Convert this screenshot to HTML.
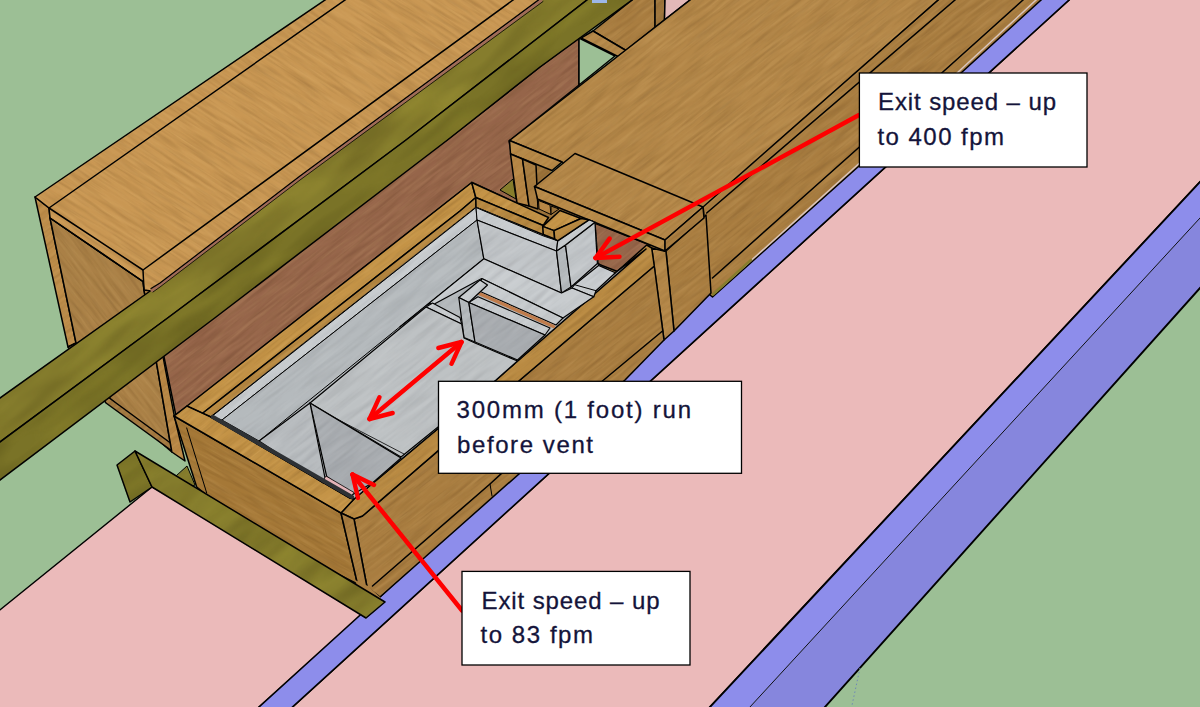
<!DOCTYPE html>
<html><head><meta charset="utf-8"><title>Vent model</title>
<style>
html,body{margin:0;padding:0;background:#9CBF95;}
body{width:1200px;height:707px;overflow:hidden;position:relative;font-family:"Liberation Sans",sans-serif;}
svg{position:absolute;left:0;top:0;display:block}
.co{position:absolute;background:#fff;border:1px solid #000;box-sizing:border-box;color:#111;font-family:"Liberation Sans",sans-serif;}
.co span{position:absolute;white-space:nowrap;transform-origin:0 0;}
</style></head><body>
<svg width="1200" height="707" viewBox="0 0 1200 707">
<defs>
<filter id="wood" x="-2%" y="-2%" width="104%" height="104%" color-interpolation-filters="sRGB">
<feTurbulence type="fractalNoise" baseFrequency="0.022 0.3" numOctaves="3" seed="11" result="n"/>
<feColorMatrix in="n" type="matrix" values="0 0 0 0 0.22  0 0 0 0 0.12  0 0 0 0 0.02  0 0 0 0.32 -0.13" result="d"/>
<feColorMatrix in="n" type="matrix" values="0 0 0 0 1  0 0 0 0 0.86  0 0 0 0 0.6  0 0 -0.26 0 0.16" result="l"/>
<feComposite in="d" in2="SourceGraphic" operator="in" result="dd"/>
<feComposite in="l" in2="SourceGraphic" operator="in" result="ll"/>
<feMerge><feMergeNode in="SourceGraphic"/><feMergeNode in="dd"/><feMergeNode in="ll"/></feMerge>
</filter>
<filter id="foam" x="-2%" y="-2%" width="104%" height="104%" color-interpolation-filters="sRGB">
<feTurbulence type="fractalNoise" baseFrequency="0.02 0.22" numOctaves="2" seed="5" result="n"/>
<feColorMatrix in="n" type="matrix" values="0 0 0 0 0.2  0 0 0 0 0.2  0 0 0 0 0.22  0 0 0 0.22 -0.09" result="d"/>
<feColorMatrix in="n" type="matrix" values="0 0 0 0 1  0 0 0 0 1  0 0 0 0 1  0 0 -0.2 0 0.12" result="l"/>
<feComposite in="d" in2="SourceGraphic" operator="in" result="dd"/>
<feComposite in="l" in2="SourceGraphic" operator="in" result="ll"/>
<feMerge><feMergeNode in="SourceGraphic"/><feMergeNode in="dd"/><feMergeNode in="ll"/></feMerge>
</filter>
<filter id="blotch" x="-2%" y="-2%" width="104%" height="104%" color-interpolation-filters="sRGB">
<feTurbulence type="fractalNoise" baseFrequency="0.012 0.05" numOctaves="2" seed="3" result="n"/>
<feColorMatrix in="n" type="matrix" values="0 0 0 0 0.15  0 0 0 0 0.13  0 0 0 0 0  0 0 0 0.45 -0.17" result="d"/>
<feColorMatrix in="n" type="matrix" values="0 0 0 0 0.9  0 0 0 0 0.85  0 0 0 0 0.3  0 0 -0.3 0 0.17" result="l"/>
<feComposite in="d" in2="SourceGraphic" operator="in" result="dd"/>
<feComposite in="l" in2="SourceGraphic" operator="in" result="ll"/>
<feMerge><feMergeNode in="SourceGraphic"/><feMergeNode in="dd"/><feMergeNode in="ll"/></feMerge>
</filter>
</defs>
<rect x="0" y="0" width="1200" height="707" fill="#9CBF95"/>
<polygon points="1077.8,-8.0 1208.0,-8.0 1208.0,173.4 702.5,715.0 283.7,715.0" fill="#EBBABA" stroke="#000" stroke-width="1.6" stroke-linejoin="round"/>
<polygon points="1208.0,173.4 1208.0,209.3 742.6,715.0 702.5,715.0" fill="#8D8DEB"/>
<polygon points="1208.0,209.3 1208.0,279.1 817.8,715.0 742.6,715.0" fill="#8686DD"/>
<polyline points="1208.0,173.4 702.5,715.0" fill="none" stroke="#000" stroke-width="1.9" stroke-linecap="round" stroke-linejoin="round"/>
<polyline points="1208.0,279.1 817.8,715.0" fill="none" stroke="#000" stroke-width="1.9" stroke-linecap="round" stroke-linejoin="round"/>
<polyline points="1208.0,209.3 742.6,715.0" fill="none" stroke="#000" stroke-width="0.9" stroke-linecap="round" stroke-linejoin="round"/>
<line x1="860" y1="668" x2="851" y2="710" stroke="#6F86B8" stroke-width="1" stroke-dasharray="1.5 2.5"/>
<polygon points="-5.0,614.0 152.0,487.0 365.0,596.0 377.0,601.0 250.1,715.0 -5.0,712.0" fill="#EBBABA" stroke="#000" stroke-width="1.4" stroke-linejoin="round"/>
<polygon points="1028.0,-10.0 1080.0,-10.0 283.7,715.0 250.2,715.0 380.0,597.0" fill="#8D8DEB" stroke="#000" stroke-width="1.6" stroke-linejoin="round"/>
<polygon points="250.8,-117.8 255.1,-100.5 249.7,-92.0 193.2,22.5 184.5,20.7" fill="#BE8D4A" transform="rotate(-38 600 353)" filter="url(#wood)"/>
<polygon points="35.0,197.0 49.0,208.0 50.0,218.0 76.0,343.0 68.0,347.0" fill="none" stroke="#000" stroke-width="1.5" stroke-linejoin="round"/>
<polygon points="155.0,703.3 262.3,669.1 269.6,673.5 414.4,751.4 334.2,767.1 269.5,759.8" fill="#AA8046" transform="rotate(52 600 353)" filter="url(#wood)"/>
<polygon points="50.0,218.0 143.0,281.5 144.0,290.0 171.8,452.0 110.0,398.5 76.0,343.0" fill="none" stroke="#000" stroke-width="1.5" stroke-linejoin="round"/>
<polygon points="184.5,20.7 193.2,22.5 185.9,87.2 206.1,159.5 202.4,166.7 179.9,88.3" fill="#A27840" transform="rotate(-38 600 353)" filter="url(#wood)"/>
<polygon points="68.0,347.0 76.0,343.0 110.0,398.5 170.5,443.0 172.0,451.0 106.0,403.0" fill="none" stroke="#000" stroke-width="1.5" stroke-linejoin="round"/>
<polygon points="279.5,22.6 285.4,24.7 225.6,140.9 206.5,182.6 201.6,167.4" fill="#B88745" transform="rotate(-38 600 353)" filter="url(#wood)"/>
<polygon points="144.0,290.0 150.0,288.0 174.4,416.4 185.0,461.0 171.8,452.0" fill="none" stroke="#000" stroke-width="1.5" stroke-linejoin="round"/>
<polygon points="777.4,91.8 748.4,128.9 658.8,129.9 628.9,187.7 604.1,139.8 242.3,140.8 227.1,141.6 285.4,24.7 610.6,91.0 728.8,90.7" fill="#96654A" transform="rotate(-38 600 353)" filter="url(#wood)"/>
<polygon points="579.0,38.0 579.0,85.0 509.0,141.0 521.0,205.0 472.0,182.5 187.5,406.0 176.0,416.0 150.0,288.0 447.0,140.0 540.0,67.0" fill="none" stroke="#000" stroke-width="1.5" stroke-linejoin="round"/>
<polygon points="41.2,529.9 182.6,193.6 362.1,77.0 253.1,369.6 193.9,535.6 189.7,545.5 183.3,548.5 177.8,541.9 65.2,539.3 58.9,531.5" fill="#C99753" transform="rotate(33 600 353)" filter="url(#wood)"/>
<polygon points="35.0,197.0 336.8,-8.0 550.8,-8.0 300.0,178.0 160.0,285.0 151.0,291.0 144.0,290.0 143.0,281.5 50.0,218.0 49.0,208.0" fill="none" stroke="#000" stroke-width="1.5" stroke-linejoin="round"/>
<polyline points="49.0,208.0 356.4,-8.0" fill="none" stroke="#000" stroke-width="1.5" stroke-linecap="round" stroke-linejoin="round"/>
<polyline points="49.0,208.0 143.0,270.0 524.0,-8.0" fill="none" stroke="#000" stroke-width="1.5" stroke-linecap="round" stroke-linejoin="round"/>
<polyline points="50.0,218.0 143.0,281.5" fill="none" stroke="#000" stroke-width="1.5" stroke-linecap="round" stroke-linejoin="round"/>
<polyline points="143.0,270.0 144.0,290.0" fill="none" stroke="#000" stroke-width="1.5" stroke-linecap="round" stroke-linejoin="round"/>
<polygon points="792.7,95.0 855.4,94.4 865.6,102.4 843.7,130.4 806.7,130.6" fill="#A97D40" transform="rotate(-38 600 353)" filter="url(#wood)"/>
<polygon points="593.0,31.0 642.1,-8.0 655.0,-8.0 655.0,27.5 626.0,50.5" fill="none" stroke="#000" stroke-width="1.5" stroke-linejoin="round"/>
<polygon points="779.0,93.1 792.7,95.0 806.7,130.6 796.7,130.4" fill="#B48748" transform="rotate(-38 600 353)" filter="url(#wood)"/>
<polygon points="581.0,38.0 593.0,31.0 626.0,50.5 618.0,56.5" fill="none" stroke="#000" stroke-width="1.5" stroke-linejoin="round"/>
<polygon points="865.6,102.4 873.6,108.7 855.8,130.3 843.7,130.4" fill="#9C733A" transform="rotate(-38 600 353)" filter="url(#wood)"/>
<polygon points="655.0,-8.0 665.2,-8.0 664.5,20.0 655.0,27.5" fill="none" stroke="#000" stroke-width="1.5" stroke-linejoin="round"/>
<polygon points="665.2,-8.0 700.2,-8.0 664.5,20.0" fill="#E2B8B8" stroke="#000" stroke-width="1.5" stroke-linejoin="round"/>
<polygon points="579.0,38.0 615.0,56.0 579.0,85.0" fill="#9CBF95" stroke="#000" stroke-width="1.5" stroke-linejoin="round"/>
<polygon points="783.5,38.3 820.2,66.9 578.3,65.7 282.5,59.3 62.5,53.5 89.7,18.6 295.8,27.7 472.0,29.6" fill="#867D2D" transform="rotate(-38 600 353)" filter="url(#blotch)"/>
<polygon points="550.8,-8.0 597.3,-8.0 406.0,140.0 169.0,317.0 -8.0,447.9 -8.0,403.7 160.0,284.0 300.0,177.0" fill="none" stroke="#000" stroke-width="1.5" stroke-linejoin="round"/>
<polygon points="820.2,66.9 856.1,95.0 728.8,90.7 611.0,91.3 319.6,88.2 39.0,83.5 62.5,53.5 282.5,59.3 578.3,65.7" fill="#7A7327" transform="rotate(-38 600 353)" filter="url(#blotch)"/>
<polygon points="597.3,-8.0 643.0,-8.0 540.0,67.0 447.5,140.0 216.0,317.0 -8.0,486.0 -8.0,447.9 169.0,317.0 406.0,140.0" fill="none" stroke="#000" stroke-width="1.5" stroke-linejoin="round"/>
<rect x="592" y="0" width="15" height="3" fill="#9DB7E8"/>
<polyline points="152.0,290.5 160.0,285.0 300.0,178.0 541.0,0.5" fill="none" stroke="#A06B58" stroke-width="3" stroke-linecap="round" stroke-linejoin="round"/>
<polyline points="151.0,288.5 160.0,283.0 300.0,176.0 539.0,-0.5" fill="none" stroke="#000" stroke-width="1.2" stroke-linecap="round" stroke-linejoin="round"/>
<polyline points="153.0,292.0 160.0,287.0 300.0,180.0 543.0,1.5" fill="none" stroke="#000" stroke-width="0.8" stroke-linecap="round" stroke-linejoin="round"/>
<polygon points="772.3,299.8 1095.8,282.3 1176.7,345.4 919.2,365.1 723.1,378.1 722.4,375.0" fill="#A97D40" transform="rotate(-38 600 353)" filter="url(#wood)"/>
<polygon points="703.0,205.0 947.2,-8.0 1049.8,-8.0 859.0,166.0 712.5,297.0 710.0,295.0" fill="none" stroke="#000" stroke-width="1.5" stroke-linejoin="round"/>
<polyline points="706.7,213.0 964.3,-8.0" fill="none" stroke="#000" stroke-width="1.5" stroke-linecap="round" stroke-linejoin="round"/>
<polyline points="712.5,278.0 858.8,147.5 1031.9,-8.0" fill="none" stroke="#000" stroke-width="1.5" stroke-linecap="round" stroke-linejoin="round"/>
<polyline points="716.0,292.0 859.0,163.5 1044.7,-8.0" fill="none" stroke="#D8C4BC" stroke-width="1.5" stroke-linecap="round" stroke-linejoin="round"/>
<polygon points="653.6,139.8 674.8,179.2 648.8,193.1 679.4,251.3 639.3,237.8 633.4,219.2 628.9,187.7" fill="#9C733A" transform="rotate(-38 600 353)" filter="url(#wood)"/>
<polygon points="645.6,193.2 714.0,312.6 703.3,318.2 662.0,301.2 651.2,282.6 675.0,244.1 638.0,239.3 626.5,226.5" fill="#9C733A" transform="rotate(-38 600 353)" filter="url(#wood)"/>
<polygon points="659.5,129.8 901.3,130.3 1095.8,282.2 771.1,301.4 721.8,294.6 687.6,179.1" fill="#B48748" transform="rotate(-38 600 353)" filter="url(#wood)"/>
<polygon points="509.5,140.5 700.3,-8.0 947.1,-8.0 703.0,207.0 660.0,232.0 562.0,162.0" fill="none" stroke="#000" stroke-width="1.5" stroke-linejoin="round"/>
<polygon points="659.5,129.8 687.6,179.1 674.5,179.6 652.0,141.1" fill="#B88A48" transform="rotate(-38 600 353)" filter="url(#wood)"/>
<polygon points="509.5,140.5 562.0,162.0 552.0,170.5 510.5,154.0" fill="none" stroke="#000" stroke-width="1.5" stroke-linejoin="round"/>
<polygon points="652.0,141.1 658.4,152.4 634.6,193.5 626.9,183.7" fill="#B88745" transform="rotate(-38 600 353)" filter="url(#wood)"/>
<polygon points="510.5,154.0 522.5,159.0 529.0,206.0 517.0,203.0" fill="none" stroke="#000" stroke-width="1.5" stroke-linejoin="round"/>
<polygon points="658.4,152.4 665.3,165.5 639.8,201.4 634.6,193.5" fill="#A97D40" transform="rotate(-38 600 353)" filter="url(#wood)"/>
<polygon points="522.5,159.0 536.0,165.0 538.0,209.0 529.0,206.0" fill="none" stroke="#000" stroke-width="1.5" stroke-linejoin="round"/>
<polygon points="714.8,313.3 768.5,309.5 724.4,374.1 671.9,381.2" fill="#A97D40" transform="rotate(-38 600 353)" filter="url(#wood)"/>
<polygon points="666.0,251.0 706.0,215.0 711.0,293.0 674.0,331.0" fill="none" stroke="#000" stroke-width="1.5" stroke-linejoin="round"/>
<polygon points="705.4,302.1 714.5,313.7 671.9,381.2 658.4,382.2" fill="#B48748" transform="rotate(-38 600 353)" filter="url(#wood)"/>
<polygon points="651.7,248.0 666.0,251.5 674.0,331.0 664.0,340.0" fill="none" stroke="#000" stroke-width="1.5" stroke-linejoin="round"/>
<polygon points="675.8,247.8 705.9,298.7 664.0,299.6 653.2,281.6" fill="#96654A" transform="rotate(-38 600 353)" filter="url(#wood)"/>
<polygon points="595.0,223.4 650.0,245.0 617.5,271.5 598.0,264.0" fill="none" stroke="#000" stroke-width="1.5" stroke-linejoin="round"/>
<polygon points="645.4,195.0 651.7,205.6 646.7,213.7 640.6,202.0" fill="#B88745" transform="rotate(-38 600 353)" filter="url(#wood)"/>
<polygon points="538.5,200.5 550.0,205.0 551.0,214.5 539.0,209.0" fill="none" stroke="#000" stroke-width="1" stroke-linejoin="round"/>
<polygon points="651.9,207.0 656.3,214.3 646.7,213.7" fill="#9C733A" transform="rotate(-38 600 353)" filter="url(#wood)"/>
<polygon points="551.0,206.0 559.0,209.0 551.0,214.5" fill="none" stroke="#000" stroke-width="1" stroke-linejoin="round"/>
<polygon points="650.9,181.5 703.1,180.4 771.1,301.4 720.8,304.0" fill="#B48748" transform="rotate(-38 600 353)" filter="url(#wood)"/>
<polygon points="534.5,186.5 575.0,153.5 703.0,207.0 665.0,240.0" fill="none" stroke="#000" stroke-width="1.5" stroke-linejoin="round"/>
<polygon points="650.9,181.5 720.8,304.0 714.0,312.6 645.6,193.2" fill="#B88A48" transform="rotate(-38 600 353)" filter="url(#wood)"/>
<polygon points="534.5,186.5 665.0,240.0 665.0,251.0 537.5,199.0" fill="none" stroke="#000" stroke-width="1.5" stroke-linejoin="round"/>
<polygon points="720.8,304.0 771.1,301.4 765.1,310.6 714.0,312.6" fill="#A97D40" transform="rotate(-38 600 353)" filter="url(#wood)"/>
<polygon points="665.0,240.0 703.0,207.0 704.0,218.0 665.0,251.0" fill="none" stroke="#000" stroke-width="1.5" stroke-linejoin="round"/>
<polyline points="713.0,294.5 751.0,260.0" fill="none" stroke="#867D2D" stroke-width="2.4" stroke-linecap="round" stroke-linejoin="round"/>
<polygon points="190.2,188.9 205.0,187.8 199.6,207.7 194.4,206.2" fill="#867D2D" transform="rotate(-38 600 353)" filter="url(#blotch)"/>
<polygon points="176.0,476.0 187.0,466.0 195.0,485.0 190.0,487.0" fill="none" stroke="#000" stroke-width="1" stroke-linejoin="round"/>
<polygon points="621.6,163.0 638.6,162.3 628.6,179.9" fill="#867D2D" transform="rotate(-38 600 353)" filter="url(#blotch)"/>
<polygon points="500.0,190.0 513.0,179.0 516.0,199.0" fill="none" stroke="#000" stroke-width="1" stroke-linejoin="round"/>
<polygon points="303.9,332.4 312.5,335.2 520.3,325.0 696.4,317.9 658.4,382.2 603.1,389.7 276.4,409.8 272.3,393.9" fill="#A97D40" transform="rotate(-38 600 353)" filter="url(#wood)"/>
<polygon points="354.0,519.0 362.5,516.0 520.0,380.0 654.3,266.0 664.0,340.0 625.0,380.0 380.0,597.0 367.0,587.0" fill="none" stroke="#000" stroke-width="1.5" stroke-linejoin="round"/>
<polyline points="372.5,586.0 490.0,484.0 600.0,383.0 662.5,331.0" fill="none" stroke="#000" stroke-width="1.5" stroke-linecap="round" stroke-linejoin="round"/>
<polyline points="490.0,484.0 492.0,496.0" fill="none" stroke="#000" stroke-width="1" stroke-linecap="round" stroke-linejoin="round"/>
<polygon points="297.4,319.6 316.3,316.6 501.4,310.2 703.3,296.6 705.4,302.1 696.4,317.9 520.3,325.0 312.5,335.2 303.9,332.4" fill="#B98A42" transform="rotate(-38 600 353)" filter="url(#wood)"/>
<polygon points="341.0,513.0 354.0,499.0 496.0,380.0 646.7,245.0 651.7,248.0 654.3,266.0 520.0,380.0 362.5,516.0 354.0,519.0" fill="none" stroke="#000" stroke-width="1.5" stroke-linejoin="round"/>
<polygon points="262.6,620.6 455.7,621.1 505.5,674.3 385.4,681.3 317.7,670.7" fill="#A57837" transform="rotate(30 600 353)" filter="url(#wood)"/>
<polygon points="174.0,416.0 341.0,513.0 357.5,584.0 250.0,530.0 196.7,487.0" fill="none" stroke="#000" stroke-width="1.5" stroke-linejoin="round"/>
<polygon points="297.4,319.6 303.9,332.4 272.3,393.9 266.7,385.7" fill="#A97D40" transform="rotate(-38 600 353)" filter="url(#wood)"/>
<polygon points="341.0,513.0 354.0,519.0 367.0,587.0 357.5,584.0" fill="none" stroke="#000" stroke-width="1.5" stroke-linejoin="round"/>
<polyline points="186.7,428.0 206.7,493.0" fill="none" stroke="#000" stroke-width="1" stroke-linecap="round" stroke-linejoin="round"/>
<polygon points="603.9,139.7 241.9,140.5 225.5,140.4 247.7,155.8 577.1,154.9 597.9,154.0" fill="#C49346" transform="rotate(-38 600 353)" filter="url(#wood)"/>
<polygon points="471.7,182.5 187.0,406.0 174.0,416.0 201.0,414.5 460.0,211.0 475.8,197.5" fill="none" stroke="#000" stroke-width="1.5" stroke-linejoin="round"/>
<polygon points="597.9,154.0 577.1,154.9 247.7,155.8 254.1,163.9 416.5,163.9 569.1,165.2 591.9,162.0" fill="#B98A42" transform="rotate(-38 600 353)" filter="url(#wood)"/>
<polygon points="475.8,197.5 460.0,211.0 201.0,414.5 211.0,417.0 339.0,317.0 460.0,224.0 476.0,207.5" fill="none" stroke="#000" stroke-width="1.5" stroke-linejoin="round"/>
<polygon points="603.9,139.7 642.8,214.5 633.7,217.6 597.9,154.0" fill="#C49346" transform="rotate(-38 600 353)" filter="url(#wood)"/>
<polygon points="471.7,182.5 548.5,217.5 543.2,225.5 475.8,197.5" fill="none" stroke="#000" stroke-width="1.5" stroke-linejoin="round"/>
<polygon points="597.9,154.0 633.7,217.6 627.8,225.6 591.9,162.0" fill="#B98A42" transform="rotate(-38 600 353)" filter="url(#wood)"/>
<polygon points="475.8,197.5 543.2,225.5 543.5,235.5 476.0,207.5" fill="none" stroke="#000" stroke-width="1.5" stroke-linejoin="round"/>
<polygon points="225.5,140.4 241.9,140.5 254.1,163.9 313.7,313.3 316.3,316.6 297.4,319.6" fill="#C49346" transform="rotate(-38 600 353)" filter="url(#wood)"/>
<polygon points="174.0,416.0 187.0,406.0 211.0,417.0 350.0,498.0 354.0,499.0 341.0,513.0" fill="none" stroke="#000" stroke-width="1.5" stroke-linejoin="round"/>
<polyline points="187.0,406.0 211.0,417.0" fill="none" stroke="#000" stroke-width="1" stroke-linecap="round" stroke-linejoin="round"/>
<polygon points="254.1,163.9 591.9,162.0 627.3,223.3 636.5,238.1 669.6,237.9 675.4,244.4 653.0,280.2 659.6,299.0 700.3,299.4 501.4,310.2 316.3,316.6 313.7,313.3" fill="#B5BABD" transform="rotate(-38 600 353)" filter="url(#foam)"/>
<polygon points="211.0,417.0 476.0,207.5 541.7,234.0 558.0,240.0 584.0,219.5 592.5,221.0 597.0,263.0 613.8,273.8 646.0,249.0 496.0,380.0 354.0,499.0 350.0,498.0" fill="none" stroke="#000" stroke-width="1.5" stroke-linejoin="round"/>
<polygon points="254.1,163.9 591.9,162.0 585.0,172.5 260.9,173.1" fill="#C8CCCF" transform="rotate(-38 600 353)" filter="url(#foam)"/>
<polygon points="211.0,417.0 476.0,207.5 477.0,220.0 222.0,420.0" fill="none" stroke="#000" stroke-width="1" stroke-linejoin="round"/>
<polygon points="260.9,173.1 585.0,172.5 566.4,207.2 458.6,209.1 277.1,212.4" fill="#B5BABD" transform="rotate(-38 600 353)" filter="url(#foam)"/>
<polygon points="222.0,420.0 477.0,220.0 483.8,258.8 400.0,326.7 259.0,441.0" fill="none" stroke="#000" stroke-width="1" stroke-linejoin="round"/>
<polygon points="591.9,162.0 627.5,226.0 635.7,238.5 628.5,245.8 585.0,172.5" fill="#C8CCCF" transform="rotate(-38 600 353)" filter="url(#foam)"/>
<polygon points="476.0,207.5 543.5,236.0 557.7,240.8 556.5,251.0 477.0,220.0" fill="none" stroke="#000" stroke-width="1" stroke-linejoin="round"/>
<polygon points="585.0,172.5 628.5,245.8 606.6,282.0 566.4,207.2" fill="#C2C6C9" transform="rotate(-38 600 353)" filter="url(#foam)"/>
<polygon points="477.0,220.0 556.5,251.0 561.5,293.0 483.8,258.8" fill="none" stroke="#000" stroke-width="1.2" stroke-linejoin="round"/>
<polygon points="628.5,245.8 639.3,246.7 617.8,283.1 606.6,282.0" fill="#B5BABD" transform="rotate(-38 600 353)" filter="url(#foam)"/>
<polygon points="556.5,251.0 565.5,245.0 571.0,287.0 561.5,293.0" fill="none" stroke="#000" stroke-width="1.2" stroke-linejoin="round"/>
<polygon points="639.3,246.7 676.6,246.8 653.1,280.9 617.8,283.1" fill="#C2C6C9" transform="rotate(-38 600 353)" filter="url(#foam)"/>
<polygon points="565.5,245.0 595.0,222.2 597.4,263.5 571.0,287.0" fill="none" stroke="#000" stroke-width="1.2" stroke-linejoin="round"/>
<polygon points="628.5,245.8 635.7,238.5 673.3,241.3 676.6,246.8 639.3,246.7" fill="#C8CCCF" transform="rotate(-38 600 353)" filter="url(#foam)"/>
<polygon points="556.5,251.0 557.7,240.8 589.0,219.8 595.0,222.2 565.5,245.0" fill="none" stroke="#000" stroke-width="1.2" stroke-linejoin="round"/>
<polygon points="632.8,218.0 656.2,216.1 667.8,235.3 639.1,228.2" fill="#C49346" transform="rotate(-38 600 353)" filter="url(#wood)"/>
<polygon points="542.7,226.4 560.0,210.5 581.0,218.5 554.0,230.6" fill="none" stroke="#000" stroke-width="1.5" stroke-linejoin="round"/>
<polygon points="632.8,218.0 639.1,228.2 634.5,235.3 628.3,224.7" fill="#B98A42" transform="rotate(-38 600 353)" filter="url(#wood)"/>
<polygon points="542.7,226.4 554.0,230.6 554.7,239.0 543.3,234.5" fill="none" stroke="#000" stroke-width="1.5" stroke-linejoin="round"/>
<polygon points="639.1,228.2 667.8,235.3 673.3,241.3 635.7,238.5 634.5,235.3" fill="#B98A42" transform="rotate(-38 600 353)" filter="url(#wood)"/>
<polygon points="554.0,230.6 581.0,218.5 589.0,219.8 557.7,240.8 554.7,239.0" fill="none" stroke="#000" stroke-width="1.5" stroke-linejoin="round"/>
<polygon points="618.0,284.5 622.0,283.5 652.8,283.2 661.6,299.2 635.2,301.4 629.8,304.8" fill="#C8CCCF" transform="rotate(-38 600 353)" filter="url(#foam)"/>
<polygon points="572.0,288.0 574.5,284.7 598.6,265.5 615.4,272.7 596.0,290.7 593.8,296.7" fill="none" stroke="#000" stroke-width="1.2" stroke-linejoin="round"/>
<polyline points="574.5,284.7 596.0,290.7" fill="none" stroke="#000" stroke-width="1" stroke-linecap="round" stroke-linejoin="round"/>
<polygon points="458.6,209.1 566.4,207.2 606.6,282.0 618.0,284.5 629.8,304.8 592.4,302.6 552.6,221.5 497.6,212.1 496.8,208.9" fill="#C8CCCF" transform="rotate(-38 600 353)" filter="url(#foam)"/>
<polygon points="400.0,326.7 483.8,258.8 561.5,293.0 572.0,288.0 593.8,296.7 563.0,318.0 481.7,278.5 432.5,305.0 430.0,303.0" fill="none" stroke="#000" stroke-width="1.2" stroke-linejoin="round"/>
<polygon points="552.6,221.5 592.4,302.6 582.6,303.8 542.8,229.6" fill="#C8CCCF" transform="rotate(-38 600 353)" filter="url(#foam)"/>
<polygon points="481.7,278.5 563.0,318.0 556.0,325.0 479.0,291.0" fill="none" stroke="#000" stroke-width="1.1" stroke-linejoin="round"/>
<polyline points="479.0,293.5 553.5,326.5" fill="none" stroke="#C07C4C" stroke-width="3.4" stroke-linecap="round" stroke-linejoin="round"/>
<polygon points="522.9,222.3 550.4,221.6 553.2,230.2 527.7,232.4" fill="#C8CCCF" transform="rotate(-38 600 353)" filter="url(#foam)"/>
<polygon points="458.8,297.5 480.0,280.0 487.5,285.0 468.8,302.5" fill="none" stroke="#000" stroke-width="1.2" stroke-linejoin="round"/>
<polygon points="527.7,232.4 538.5,233.5 576.0,302.5 567.7,305.0" fill="#C8CCCF" transform="rotate(-38 600 353)" filter="url(#foam)"/>
<polygon points="468.8,302.5 478.0,296.7 550.0,328.0 545.0,335.0" fill="none" stroke="#000" stroke-width="1.1" stroke-linejoin="round"/>
<polygon points="522.9,222.3 527.7,232.4 508.3,267.4 502.4,257.1" fill="#B5BABD" transform="rotate(-38 600 353)" filter="url(#foam)"/>
<polygon points="458.8,297.5 468.8,302.5 475.0,342.0 464.0,337.5" fill="none" stroke="#000" stroke-width="1.2" stroke-linejoin="round"/>
<polygon points="527.7,232.4 567.7,305.0 530.7,307.7 508.3,267.4" fill="#A9ADB1" transform="rotate(-38 600 353)" filter="url(#foam)"/>
<polygon points="468.8,302.5 545.0,335.0 517.5,360.0 475.0,342.0" fill="none" stroke="#000" stroke-width="1.2" stroke-linejoin="round"/>
<polygon points="491.2,209.6 498.8,210.5 511.5,238.8 508.9,245.0" fill="#C8CCCF" transform="rotate(-38 600 353)" filter="url(#foam)"/>
<polygon points="426.0,307.0 432.5,303.0 460.0,317.5 461.7,324.0" fill="none" stroke="#000" stroke-width="1.1" stroke-linejoin="round"/>
<polygon points="340.7,213.9 491.2,209.6 508.9,245.0 502.1,257.4 507.7,268.2 530.1,308.5 501.4,310.2 379.2,312.4" fill="#BEC2C4" transform="rotate(-38 600 353)" filter="url(#foam)"/>
<polygon points="310.0,403.0 426.0,307.0 461.7,324.0 464.0,338.0 475.0,343.0 517.5,361.0 496.0,380.0 401.0,457.0" fill="none" stroke="#000" stroke-width="1.2" stroke-linejoin="round"/>
<polyline points="312.0,406.0 404.0,454.0" fill="none" stroke="#000" stroke-width="0.8" stroke-linecap="round" stroke-linejoin="round"/>
<polygon points="340.7,213.9 378.5,313.2 341.4,315.3 317.1,312.2 308.6,282.1" fill="#A9ADB1" transform="rotate(-38 600 353)" filter="url(#foam)"/>
<polygon points="310.0,403.0 401.0,458.0 373.0,482.5 352.0,495.0 326.7,476.5" fill="none" stroke="#000" stroke-width="1.2" stroke-linejoin="round"/>
<polygon points="277.1,212.4 340.7,213.9 306.3,282.2 301.7,284.9" fill="#B8BCBF" transform="rotate(-38 600 353)" filter="url(#foam)"/>
<polygon points="259.0,441.0 310.0,403.0 325.0,478.0 323.0,483.0" fill="none" stroke="#000" stroke-width="1.2" stroke-linejoin="round"/>
<polygon points="326.0,476.0 354.0,492.5 350.0,498.0 322.0,482.0" fill="#E4B4B8" stroke="#000" stroke-width="0.8" stroke-linejoin="round"/>
<polyline points="213.0,417.0 352.0,497.0" fill="none" stroke="#2E3134" stroke-width="4.2" stroke-linecap="round" stroke-linejoin="round"/>
<polygon points="355.0,580.0 368.0,586.0 381.0,598.0 362.0,600.0" fill="#A97D40"/>
<polygon points="150.4,143.9 173.2,143.9 164.5,182.8 137.9,181.1" fill="#7A7327" transform="rotate(-38 600 353)" filter="url(#blotch)"/>
<polygon points="117.0,465.0 135.0,451.0 152.0,487.0 130.0,502.0" fill="none" stroke="#000" stroke-width="1.5" stroke-linejoin="round"/>
<polygon points="173.2,143.9 277.3,416.8 252.5,417.8 164.5,182.8" fill="#867D2D" transform="rotate(-38 600 353)" filter="url(#blotch)"/>
<polygon points="135.0,451.0 385.0,602.0 366.0,618.0 152.0,487.0" fill="none" stroke="#000" stroke-width="1.5" stroke-linejoin="round"/>
<polyline points="859.0,115.0 595.5,258.0" fill="none" stroke="#FF0000" stroke-width="4.4" stroke-linecap="round" stroke-linejoin="round" stroke-linecap="butt"/>
<polyline points="609.6,238.6 595.5,258.0" fill="none" stroke="#FF0000" stroke-width="4.4" stroke-linecap="round" stroke-linejoin="round"/>
<polyline points="619.5,256.7 595.5,258.0" fill="none" stroke="#FF0000" stroke-width="4.4" stroke-linecap="round" stroke-linejoin="round"/>
<polyline points="369.5,419.0 461.5,342.0" fill="none" stroke="#FF0000" stroke-width="4.4" stroke-linecap="round" stroke-linejoin="round" stroke-linecap="butt"/>
<polyline points="379.5,397.2 369.5,419.0" fill="none" stroke="#FF0000" stroke-width="4.4" stroke-linecap="round" stroke-linejoin="round"/>
<polyline points="392.7,413.0 369.5,419.0" fill="none" stroke="#FF0000" stroke-width="4.4" stroke-linecap="round" stroke-linejoin="round"/>
<polyline points="451.5,363.8 461.5,342.0" fill="none" stroke="#FF0000" stroke-width="4.4" stroke-linecap="round" stroke-linejoin="round"/>
<polyline points="438.3,348.0 461.5,342.0" fill="none" stroke="#FF0000" stroke-width="4.4" stroke-linecap="round" stroke-linejoin="round"/>
<polyline points="462.0,610.5 352.5,474.5" fill="none" stroke="#FF0000" stroke-width="4.4" stroke-linecap="round" stroke-linejoin="round" stroke-linecap="butt"/>
<polyline points="374.1,484.9 352.5,474.5" fill="none" stroke="#FF0000" stroke-width="4.4" stroke-linecap="round" stroke-linejoin="round"/>
<polyline points="358.0,497.9 352.5,474.5" fill="none" stroke="#FF0000" stroke-width="4.4" stroke-linecap="round" stroke-linejoin="round"/>
<rect x="859.4" y="73" width="227.60000000000002" height="94" fill="#fff" stroke="#000" stroke-width="1.3"/>
<text x="878" y="110.4" textLength="178" lengthAdjust="spacing" font-family="Liberation Sans, sans-serif" font-size="24" fill="#14143A" stroke="#14143A" stroke-width="0.3">Exit speed – up</text>
<text x="877.5" y="145" textLength="126.5" lengthAdjust="spacing" font-family="Liberation Sans, sans-serif" font-size="24" fill="#14143A" stroke="#14143A" stroke-width="0.3">to 400 fpm</text>
<rect x="438.5" y="381.3" width="303.0" height="92.0" fill="#fff" stroke="#000" stroke-width="1.3"/>
<text x="456.5" y="418" textLength="234.5" lengthAdjust="spacing" font-family="Liberation Sans, sans-serif" font-size="24" fill="#14143A" stroke="#14143A" stroke-width="0.3">300mm (1 foot) run</text>
<text x="457" y="452.8" textLength="136" lengthAdjust="spacing" font-family="Liberation Sans, sans-serif" font-size="24" fill="#14143A" stroke="#14143A" stroke-width="0.3">before vent</text>
<rect x="462" y="571.4" width="228" height="93.60000000000002" fill="#fff" stroke="#000" stroke-width="1.3"/>
<text x="481.5" y="608.6" textLength="178" lengthAdjust="spacing" font-family="Liberation Sans, sans-serif" font-size="24" fill="#14143A" stroke="#14143A" stroke-width="0.3">Exit speed – up</text>
<text x="480.5" y="643" textLength="112.5" lengthAdjust="spacing" font-family="Liberation Sans, sans-serif" font-size="24" fill="#14143A" stroke="#14143A" stroke-width="0.3">to 83 fpm</text>
</svg>

</body></html>
